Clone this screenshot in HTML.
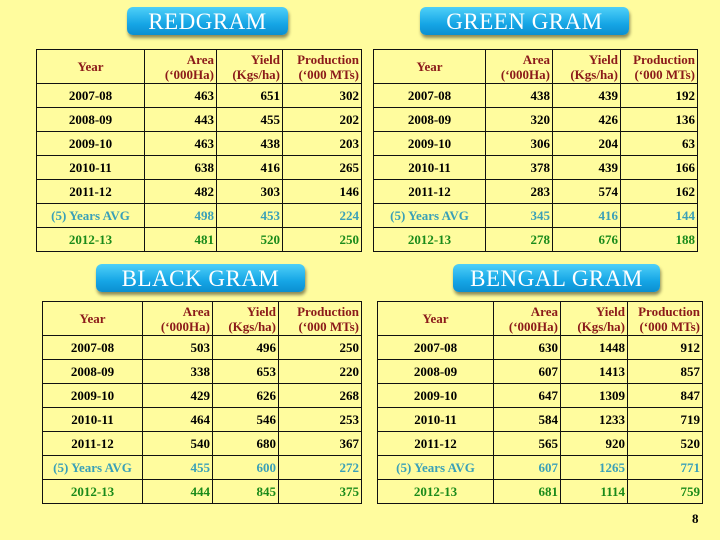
<!DOCTYPE html>
<html><head><meta charset="utf-8"><style>
body{margin:0;width:720px;height:540px;background:#fffc9e;position:relative;overflow:hidden;font-family:"Liberation Serif",serif;}
.btn{position:absolute;height:28px;border-radius:6px;background:linear-gradient(#4fd0f8,#16a6e6 60%,#0b8fd0);box-shadow:1px 3px 3px rgba(0,0,0,0.45);color:#fff;font-size:23px;text-align:center;line-height:29px;letter-spacing:0.5px;}
table{position:absolute;border-collapse:collapse;font-size:13px;font-weight:bold;}
td{border:1.5px solid #111;padding:0 2px;}
td.y{text-align:center}
td.n{text-align:right}
tr.h td{color:#8b1a1a;line-height:15px;}
tr.a td{color:#3aa0b8}
tr.g td{color:#1a8a1a}
.pg{position:absolute;left:692px;top:511px;font-size:13px;font-weight:bold;}
</style></head><body>
<div class="btn" style="left:127px;top:7px;width:161px">REDGRAM</div>
<div class="btn" style="left:420px;top:7px;width:209px">GREEN GRAM</div>
<div class="btn" style="left:96px;top:264px;width:209px">BLACK GRAM</div>
<div class="btn" style="left:453px;top:264px;width:207px">BENGAL GRAM</div>
<div id="tables"></div>
<div class="pg">8</div>
<script>
const years=["2007-08","2008-09","2009-10","2010-11","2011-12","(5) Years AVG","2012-13"];
const redgram=[[463,651,302],[443,455,202],[463,438,203],[638,416,265],[482,303,146],[498,453,224],[481,520,250]];
const greengram=[[438,439,192],[320,426,136],[306,204,63],[378,439,166],[283,574,162],[345,416,144],[278,676,188]];
const blackgram=[[503,496,250],[338,653,220],[429,626,268],[464,546,253],[540,680,367],[455,600,272],[444,845,375]];
const bengalgram=[[630,1448,912],[607,1413,857],[647,1309,847],[584,1233,719],[565,920,520],[607,1265,771],[681,1114,759]];
const specs=[
 {name:"redgram-table",data:redgram,x:36,y:49,cols:[108,72,66,79]},
 {name:"green-gram-table",data:greengram,x:373,y:49,cols:[112,67,68,77]},
 {name:"black-gram-table",data:blackgram,x:42,y:301,cols:[100,70,66,83]},
 {name:"bengal-gram-table",data:bengalgram,x:377,y:301,cols:[116,67,67,75]}
];
const host=document.getElementById('tables');
specs.forEach(s=>{
  const t=document.createElement('table');
  
  
  t.style.left=s.x+'px';t.style.top=s.y+'px';
  let h='<colgroup>'+s.cols.map(w=>'<col style="width:'+w+'px">').join('')+'</colgroup>';
  h+='<tr class="h" style="height:34px"><td class="y">Year</td><td class="n">Area<br>(‘000Ha)</td><td class="n">Yield<br>(Kgs/ha)</td><td class="n">Production<br>(‘000 MTs)</td></tr>';
  years.forEach((y,i)=>{
    const cls=i==5?'a':(i==6?'g':'');
    const d=s.data[i];
    h+='<tr class="'+cls+'" style="height:24px"><td class="y">'+y+'</td><td class="n">'+d[0]+'</td><td class="n">'+d[1]+'</td><td class="n">'+d[2]+'</td></tr>';
  });
  t.innerHTML=h;
  t.style.width=s.cols.reduce((a,b)=>a+b,0)+'px';
  t.style.tableLayout='fixed';
  host.appendChild(t);
});
</script>
</body></html>
